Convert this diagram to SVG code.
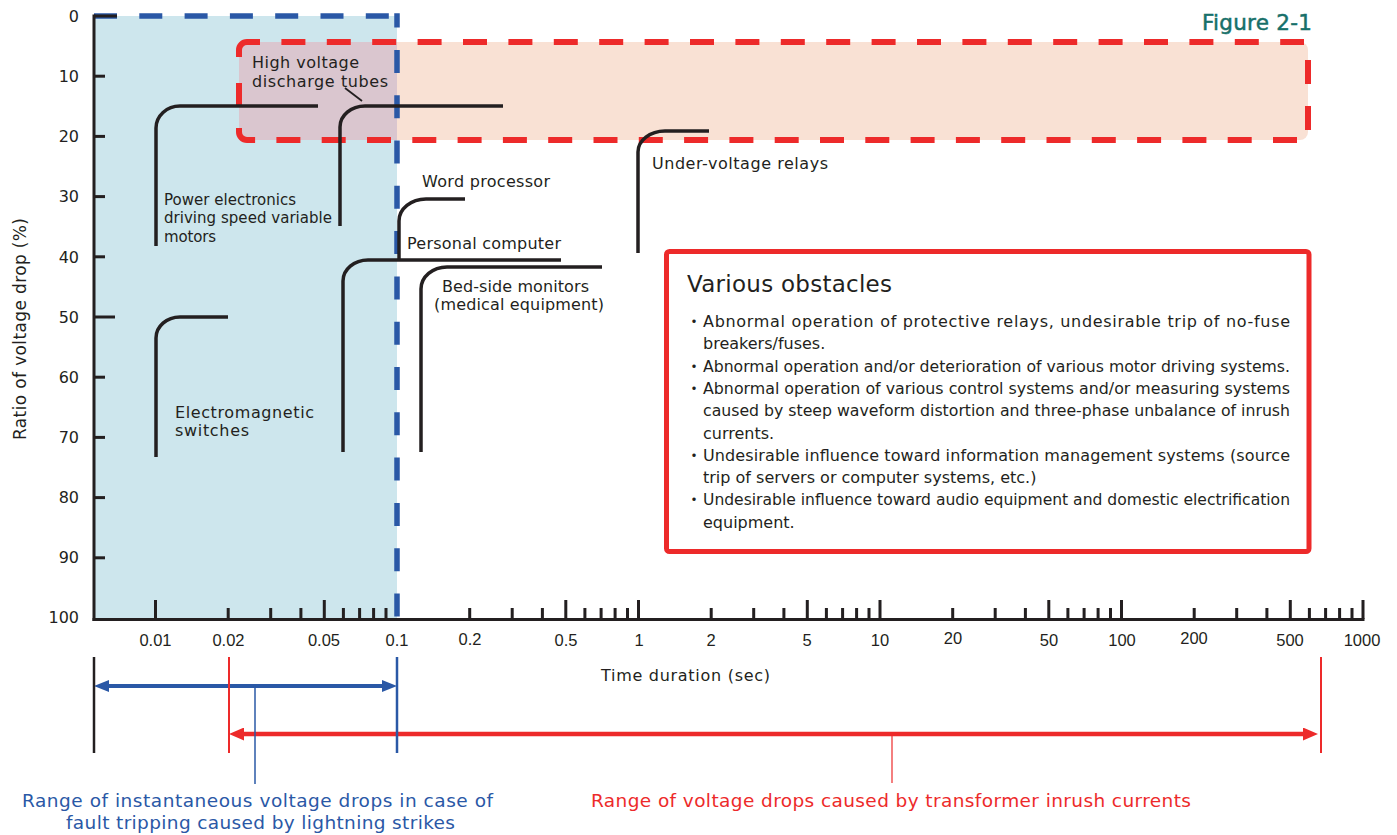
<svg xmlns="http://www.w3.org/2000/svg" width="1397" height="835" viewBox="0 0 1397 835">
<defs>
<style>
.ax{stroke:#231f20;stroke-width:3;fill:none}
.tk{stroke:#231f20;stroke-width:3}
.cv{stroke:#231f20;stroke-width:3.5;fill:none}
.lbl{font-family:"DejaVu Sans",sans-serif;font-size:16px;fill:#231f20}
.sm{font-size:15px}
.xn{font-family:"Liberation Sans",Arial,sans-serif;font-size:16.5px;fill:#231f20;text-anchor:middle}
.yn{font-family:"DejaVu Sans",sans-serif;font-size:16px;fill:#231f20;text-anchor:end}
.bx{font-family:"DejaVu Sans",sans-serif;font-size:16px;fill:#231f20}
.bul{font-family:"Noto Sans CJK JP",sans-serif;font-size:16px;fill:#231f20;text-anchor:middle}
.rd{stroke:#ed2a2a;stroke-width:6;fill:none}
.bd{stroke:#2a58a6;stroke-width:5.5;fill:none}
</style>
<marker id="ab" viewBox="0 0 15 12" markerWidth="15" markerHeight="12" refX="5" refY="6" orient="auto-start-reverse" markerUnits="userSpaceOnUse"><path d="M0,0 L15,6 L0,12 Z" fill="#2a58a6"/></marker>
<marker id="ar" viewBox="0 0 15 13" markerWidth="15" markerHeight="13" refX="5" refY="6.5" orient="auto-start-reverse" markerUnits="userSpaceOnUse"><path d="M0,0 L15,6.5 L0,13 Z" fill="#ed2a2a"/></marker>
</defs>
<rect width="1397" height="835" fill="#fff"/>

<g id="region-lightning">
<rect x="94" y="16" width="303" height="602" fill="#cde6ed"/>
</g>
<g id="region-inrush">
<rect x="239" y="42" width="1069" height="98" rx="8" fill="#f9e1d4"/>
<path d="M397,42 H247 A8,8 0 0 0 239,50 V132 A8,8 0 0 0 247,140 H397 Z" fill="#dac6cf"/>
<line class="rd" x1="247" y1="42" x2="1304" y2="42" stroke-dasharray="24 21.4" stroke-dashoffset="11"/>
<path class="rd" d="M239,57 V50 A8,8 0 0 1 247,42"/>
<line class="rd" x1="1308" y1="60" x2="1308" y2="130" stroke-dasharray="24 22"/>
<line class="rd" x1="1297" y1="140" x2="254" y2="140" stroke-dasharray="24 21.3"/>
<path class="rd" d="M255,140 H247 A8,8 0 0 1 239,132 V128"/>
<line class="rd" x1="239" y1="83" x2="239" y2="107"/>
</g>
<g id="region-lightning-border">
<line class="bd" x1="94" y1="16" x2="397" y2="16" stroke-dasharray="23 22.3"/>
<line class="bd" x1="397" y1="13.3" x2="397" y2="619" stroke-dasharray="23 22.3" stroke-dashoffset="8.7"/>
</g>

<g id="axes">
<line class="ax" x1="94" y1="14.5" x2="94" y2="621"/>
<line class="ax" x1="92.5" y1="619.5" x2="1364.5" y2="619.5"/>
<g class="tk">
<line x1="94" y1="16" x2="117" y2="16"/>
<line x1="94" y1="76.2" x2="105" y2="76.2"/>
<line x1="94" y1="136.4" x2="105" y2="136.4"/>
<line x1="94" y1="196.6" x2="105" y2="196.6"/>
<line x1="94" y1="256.8" x2="105" y2="256.8"/>
<line x1="94" y1="317" x2="115" y2="317"/>
<line x1="94" y1="377.2" x2="105" y2="377.2"/>
<line x1="94" y1="437.4" x2="105" y2="437.4"/>
<line x1="94" y1="497.6" x2="105" y2="497.6"/>
<line x1="94" y1="557.8" x2="105" y2="557.8"/>
</g>
<path class="tk" d="M155.5,619V600 M228.2,619V608 M270.7,619V608 M300.9,619V608 M324.3,619V600 M343.4,619V608 M359.6,619V608 M373.6,619V608 M386,619V608
M469.7,619V608 M512.2,619V608 M542.4,619V608 M565.8,619V600 M584.9,619V608 M601.1,619V608 M615.1,619V608 M627.5,619V608
M638.5,619V600 M711.2,619V608 M753.7,619V608 M783.9,619V608 M807.3,619V600 M826.4,619V608 M842.6,619V608 M856.6,619V608 M869,619V608
M880,619V600 M952.7,619V608 M995.2,619V608 M1025.4,619V608 M1048.8,619V600 M1067.9,619V608 M1084.1,619V608 M1098.1,619V608 M1110.5,619V608
M1121.5,619V600 M1194.2,619V608 M1236.7,619V608 M1266.9,619V608 M1290.3,619V600 M1309.4,619V608 M1325.6,619V608 M1339.6,619V608 M1352,619V608
M1363,619V600"/>
<g class="yn">
<text x="79" y="22">0</text>
<text x="79" y="82">10</text>
<text x="79" y="142">20</text>
<text x="79" y="202">30</text>
<text x="79" y="263">40</text>
<text x="79" y="323">50</text>
<text x="79" y="383">60</text>
<text x="79" y="443">70</text>
<text x="79" y="503">80</text>
<text x="79" y="563">90</text>
<text x="79" y="623">100</text>
</g>
<g class="xn">
<text x="155.5" y="646">0.01</text>
<text x="228.5" y="646">0.02</text>
<text x="324" y="646">0.05</text>
<text x="397" y="646">0.1</text>
<text x="470" y="645">0.2</text>
<text x="566" y="646">0.5</text>
<text x="639" y="646">1</text>
<text x="711" y="646">2</text>
<text x="807" y="646">5</text>
<text x="880" y="646">10</text>
<text x="953" y="644">20</text>
<text x="1049" y="646">50</text>
<text x="1122" y="646">100</text>
<text x="1194" y="644">200</text>
<text x="1290" y="646">500</text>
<text x="1362" y="646">1000</text>
</g>
<text class="lbl" x="601" y="681" textLength="169">Time duration (sec)</text>
<text class="lbl" transform="translate(26,329) rotate(-90)" text-anchor="middle" style="font-size:17px" textLength="222">Ratio of voltage drop (%)</text>
</g>

<g id="figure-title">
<text x="1312" y="30" text-anchor="end" textLength="110" style="font-family:'DejaVu Sans',sans-serif;font-size:21.5px;fill:#17706a;stroke:#17706a;stroke-width:0.5">Figure 2-1</text>
</g>

<g id="connectors">
<path class="cv" d="M156,246 V128 A24,22 0 0 1 180,106 H318"/>
<path class="cv" d="M340,226 V127 A25,21 0 0 1 365,106 H503"/>
<path class="cv" d="M156,457 V338 A24,21 0 0 1 180,317 H228"/>
<path class="cv" d="M343,452 V281 A25,21 0 0 1 368,260 H561"/>
<path class="cv" d="M399,260 V221 A27,22 0 0 1 426,199 H465"/>
<path class="cv" d="M421,452 V289 A26,22 0 0 1 447,267 H602"/>
<path class="cv" d="M638,253 V152 A27,21 0 0 1 665,131 H709"/>
<line x1="345" y1="88" x2="362" y2="101" stroke="#231f20" stroke-width="1.8"/>
</g>

<g id="node-hv-tubes">
<text class="lbl" x="252" y="68" textLength="107">High voltage</text>
<text class="lbl" x="252" y="86.5" textLength="136">discharge tubes</text>
</g>
<g id="node-power-electronics">
<text class="lbl sm" x="164" y="205" textLength="132">Power electronics</text>
<text class="lbl sm" x="164" y="223" textLength="168">driving speed variable</text>
<text class="lbl sm" x="164" y="242" textLength="52">motors</text>
</g>
<g id="node-word-processor">
<text class="lbl" x="422" y="187" textLength="128">Word processor</text>
</g>
<g id="node-personal-computer">
<text class="lbl" x="407" y="249" textLength="154">Personal computer</text>
</g>
<g id="node-bedside">
<text class="lbl" x="442" y="292" textLength="147">Bed-side monitors</text>
<text class="lbl" x="434" y="310" textLength="170">(medical equipment)</text>
</g>
<g id="node-undervoltage">
<text class="lbl" x="652" y="169" textLength="176">Under-voltage relays</text>
</g>
<g id="node-em-switches">
<text class="lbl" x="175" y="418" textLength="139">Electromagnetic</text>
<text class="lbl" x="175" y="436" textLength="74">switches</text>
</g>

<g id="node-obstacles">
<rect x="666.5" y="251.5" width="642.5" height="300" rx="3" fill="#fff" stroke="#ed2a2a" stroke-width="5"/>
<text x="687" y="292" style="font-family:'DejaVu Sans',sans-serif;font-size:23px;fill:#231f20" textLength="205">Various obstacles</text>
<g class="bul">
<text x="694" y="327">・</text>
<text x="694" y="371.6">・</text>
<text x="694" y="393.9">・</text>
<text x="694" y="460.8">・</text>
<text x="694" y="505.4">・</text>
</g>
<g class="bx">
<text x="703" y="327" textLength="587" lengthAdjust="spacing">Abnormal operation of protective relays, undesirable trip of no-fuse</text>
<text x="703" y="349.3">breakers/fuses.</text>
<text x="703" y="371.6" textLength="587" lengthAdjust="spacingAndGlyphs">Abnormal operation and/or deterioration of various motor driving systems.</text>
<text x="703" y="393.9" textLength="587" lengthAdjust="spacingAndGlyphs">Abnormal operation of various control systems and/or measuring systems</text>
<text x="703" y="416.2" textLength="587" lengthAdjust="spacingAndGlyphs">caused by steep waveform distortion and three-phase unbalance of inrush</text>
<text x="703" y="438.5">currents.</text>
<text x="703" y="460.8" textLength="587" lengthAdjust="spacing">Undesirable influence toward information management systems (source</text>
<text x="703" y="483.1">trip of servers or computer systems, etc.)</text>
<text x="703" y="505.4" textLength="587" lengthAdjust="spacingAndGlyphs">Undesirable influence toward audio equipment and domestic electrification</text>
<text x="703" y="527.7">equipment.</text>
</g>
</g>

<g id="range-arrows">
<line x1="104" y1="686" x2="387" y2="686" stroke="#2a58a6" stroke-width="4" marker-start="url(#ab)" marker-end="url(#ab)"/>
<line x1="239" y1="734" x2="1308" y2="734" stroke="#ed2a2a" stroke-width="4.5" marker-start="url(#ar)" marker-end="url(#ar)"/>
<line x1="94" y1="657" x2="94" y2="753" stroke="#231f20" stroke-width="2.5"/>
<line x1="229" y1="657" x2="229" y2="753" stroke="#ed2a2a" stroke-width="2"/>
<line x1="397" y1="657" x2="397" y2="753" stroke="#2a58a6" stroke-width="2.5"/>
<line x1="1321" y1="657" x2="1321" y2="753" stroke="#ed2a2a" stroke-width="2"/>
<line x1="255" y1="686" x2="255" y2="784" stroke="#2a58a6" stroke-width="1.5"/>
<line x1="892" y1="734" x2="892" y2="783" stroke="#ed2a2a" stroke-width="1.2"/>
</g>
<g id="label-lightning">
<text x="257.5" y="807" text-anchor="middle" style="font-family:'DejaVu Sans',sans-serif;font-size:18.5px;fill:#2a58a6" textLength="471">Range of instantaneous voltage drops in case of</text>
<text x="260.5" y="829" text-anchor="middle" style="font-family:'DejaVu Sans',sans-serif;font-size:18.5px;fill:#2a58a6" textLength="389">fault tripping caused by lightning strikes</text>
</g>
<g id="label-inrush">
<text x="891" y="807" text-anchor="middle" style="font-family:'DejaVu Sans',sans-serif;font-size:18.5px;fill:#ed2a2a" textLength="600">Range of voltage drops caused by transformer inrush currents</text>
</g>
</svg>
